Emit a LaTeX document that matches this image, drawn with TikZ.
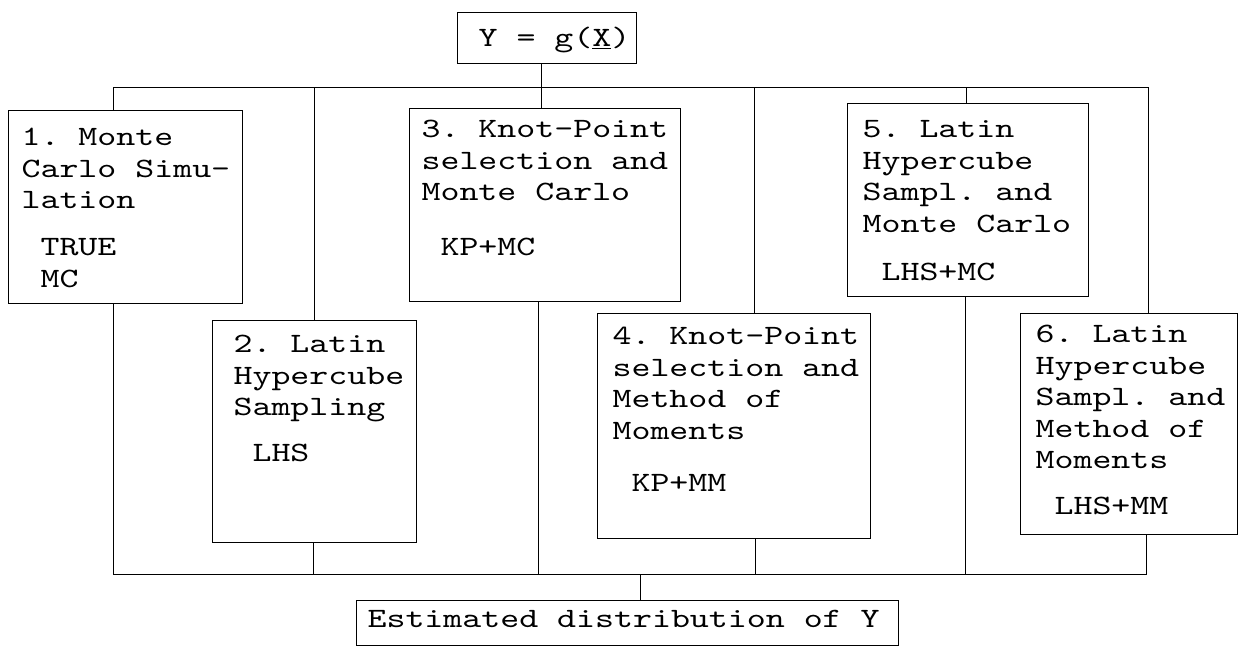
\documentclass[tikz,border=0pt]{standalone}
\usepackage{fontspec}
\newfontfamily\tw{lmmono10-regular.otf}[FakeStretch=1.29]
\newcommand\boxtxt[5]{\parbox[t][#2pt][t]{#1pt}{\frenchspacing\raggedright\leftskip=#3pt\relax\lineskiplimit=-100pt\relax
  \vspace*{\dimexpr#4pt-24pt\relax}\rule{0pt}{24pt}#5}}
\tikzset{
  box/.style={draw, line width=1.2pt, inner sep=0pt, anchor=north west,
    font=\tw\fontsize{28}{31.5}\selectfont},
  wire/.style={line width=0.8pt},
}
\begin{document}
\begin{tikzpicture}[x=1pt,y=-1pt]
\useasboundingbox (0,0) rectangle (1238,648);
% boxes
\node[box] (top) at (457,12) {\boxtxt{179}{51}{21}{34}{Y = g(\underline{X})}};
\node[box] (b1) at (8,110) {\boxtxt{234}{193}{13}{35}{1. Monte\\Carlo Simu-\\lation\\[15.5pt]\phantom{M}TRUE\\\phantom{M}MC}};
\node[box] (b2) at (212,320) {\boxtxt{204}{222}{21}{32}{2. Latin\\Hypercube\\Sampling\\[14.5pt]\phantom{M}LHS}};
\node[box] (b3) at (409,108) {\boxtxt{271}{193}{12}{29}{3. Knot-Point\\selection and\\Monte Carlo\\[23.5pt]\phantom{M}KP+MC}};
\node[box] (b4) at (597,313) {\boxtxt{273}{225}{15}{31}{4. Knot-Point\\selection and\\Method of\\Moments\\[20.5pt]\phantom{M}KP+MM}};
\node[box] (b5) at (847,103) {\boxtxt{241}{193}{15}{34}{5. Latin\\Hypercube\\Sampl. and\\Monte Carlo\\[16.5pt]\phantom{M}LHS+MC}};
\node[box] (b6) at (1020,313) {\boxtxt{217}{221}{15}{29}{6. Latin\\Hypercube\\Sampl. and\\Method of\\Moments\\[14.5pt]\phantom{M}LHS+MM}};
\node[box] (bot) at (356,600) {\boxtxt{542}{45}{11}{27}{Estimated distribution of Y}};
% top bus
\coordinate (tl) at (113,87);
\coordinate (tr) at (1148,87);
\coordinate (j2) at (314,87);
\coordinate (j3) at (541,87);
\coordinate (j4) at (754,87);
\coordinate (j5) at (966,87);
\draw[wire] (b1.north -| tl) -- (tl) -- (tr) -- (b6.north -| tr);
\draw[wire] (top.south -| j3) -- (b3.north -| j3);
\draw[wire] (j2) -- (b2.north -| j2);
\draw[wire] (j4) -- (b4.north -| j4);
\draw[wire] (j5) -- (b5.north -| j5);
% bottom bus
\coordinate (bl) at (113,574);
\coordinate (br) at (1146,574);
\coordinate (k2) at (313,574);
\coordinate (k3) at (538,574);
\coordinate (k4) at (755,574);
\coordinate (k5) at (965,574);
\coordinate (ko) at (640,574);
\draw[wire] (b1.south -| bl) -- (bl) -- (br) -- (b6.south -| br);
\draw[wire] (b2.south -| k2) -- (k2);
\draw[wire] (b3.south -| k3) -- (k3);
\draw[wire] (b4.south -| k4) -- (k4);
\draw[wire] (b5.south -| k5) -- (k5);
\draw[wire] (ko) -- (bot.north -| ko);
\end{tikzpicture}
\end{document}
